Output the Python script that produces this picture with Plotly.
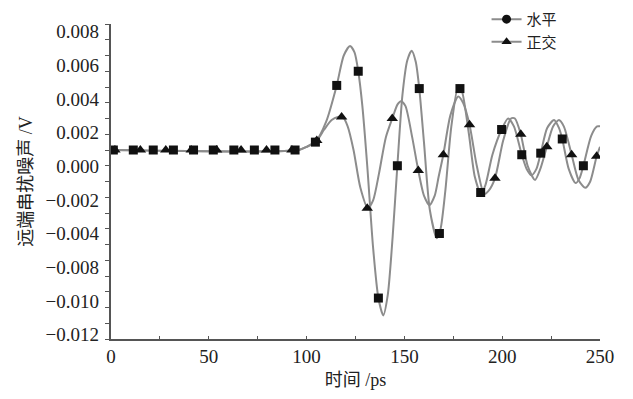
import plotly.graph_objects as go

# ---------------- data ----------------
# 水平 (horizontal) : line vertices
h_x = [0, 96, 100, 104.5, 110, 115.4, 119, 122.2, 124.5, 126.4, 128.5, 131, 134, 136.7, 139.2,
       141.5, 144, 146.4, 149, 151.5, 153.7, 155.8, 157.6, 160, 163, 166.6, 168.5, 171, 174,
       177.6, 179.5, 183, 186, 189.2, 191.5, 195, 199.7, 203, 206, 210, 212.5, 215, 217.5,
       219.7, 223, 226.5, 229, 230.7, 234, 237.5, 239.5, 241.5, 245.5, 248.5, 250]
h_y = [0, 0, 0.0002, 0.0005, 0.0018, 0.0041, 0.0060, 0.0066, 0.0062, 0.0050, 0.0028, -0.0010,
       -0.0062, -0.0094, -0.0105, -0.0092, -0.0055, -0.0010, 0.0035, 0.0057, 0.0063, 0.0056,
       0.0039, 0.0005, -0.0038, -0.0056, -0.0050, -0.0025, 0.0015, 0.0041, 0.0037, 0.0010,
       -0.0017, -0.0028, -0.0022, -0.0003, 0.0013, 0.0020, 0.0015, -0.0003, -0.0012, -0.0016,
       -0.0012, -0.0002, 0.0014, 0.0019, 0.0014, 0.0007, -0.0012, -0.0021, -0.0018, -0.0010,
       0.0009, 0.0015, 0.0015]
# 水平 : marker points
h_mx = [1.2, 11.4, 21.6, 31.9, 42.2, 52.3, 62.8, 73.3, 83.8, 94.1, 104.5, 115.4, 126.4, 136.7,
        146.4, 157.6, 167.9, 178.4, 189.0, 199.7, 210.0, 219.7, 230.7, 241.5]
h_my = [0, 0, 0, 0, 0, 0, 0, 0, 0, 0, 0.0005, 0.0041, 0.0050, -0.0094, -0.0010, 0.0039,
        -0.0053, 0.0039, -0.0027, 0.0013, -0.0003, -0.0002, 0.0007, -0.0010]

# 正交 (orthogonal) : line vertices
o_x = [0, 96, 100, 105.2, 109, 112.8, 116, 118.5, 121, 124, 127.5, 131.3, 134, 137, 140.5,
       143.8, 146.5, 148.3, 150.5, 154, 157.1, 160, 162.8, 165.5, 167.5, 169.9, 173.5, 177.5,
       180, 183.3, 187, 190.8, 193, 196.3, 200.5, 204.5, 206.5, 209.5, 213, 216.8, 219.5,
       222.8, 226, 229, 231.5, 235.5, 239, 242.5, 245, 248.3, 250]
o_y = [0, 0, 0.0002, 0.0006, 0.0013, 0.0019, 0.0021, 0.0021, 0.0015, 0.0000, -0.0024, -0.0037,
       -0.0032, -0.0015, 0.0008, 0.0020, 0.0029, 0.0031, 0.0028, 0.0008, -0.0013, -0.0029,
       -0.0035, -0.0029, -0.0017, -0.0003, 0.0022, 0.0034, 0.0030, 0.0016, -0.0010, -0.0028,
       -0.0026, -0.0018, 0.0006, 0.0020, 0.0020, 0.0010, -0.0010, -0.0019, -0.0012, 0.0002,
       0.0015, 0.0019, 0.0015, -0.0003, -0.0019, -0.0024, -0.0020, -0.0004, 0.0002]
# 正交 : marker points
o_mx = [2, 15, 28, 41, 54, 66.5, 79.5, 92.5, 105.2, 117.9, 131.0, 143.8, 157.1, 169.9, 183.3,
        196.3, 209.5, 222.8, 235.5, 248.3]
o_my = [0, 0, 0, 0, 0, 0, 0, 0, 0.0006, 0.0021, -0.0037, 0.0020, -0.0013, -0.0003, 0.0016,
        -0.0018, 0.0010, 0.0002, -0.0003, -0.0004]

series_names = ["水平", "正交"]
x_tick_vals = [0, 50, 100, 150, 200, 250]
y_tick_labels = ["0.008", "0.006", "0.004", "0.002", "0.000", "\u22120.002", "\u22120.004",
                 "\u22120.008", "\u22120.010", "\u22120.012"]
x_title = "时间 /ps"
y_title = "远端串扰噪声 /V"

# ---------------- styling ----------------
LINE_C = "#8c8c8c"
MARK_C = "#111111"
AX_C = "#555555"
FONT = "Liberation Serif, 'Noto Sans CJK SC', serif"

fig = go.Figure()
for (lx, ly) in [(h_x, h_y), (o_x, o_y)]:
    fig.add_trace(go.Scatter(x=lx, y=ly, mode="lines",
                             line=dict(color=LINE_C, width=2, shape="spline", smoothing=0.7),
                             showlegend=False, hoverinfo="skip"))
for (mx, my, sym, sz) in [(h_mx, h_my, "square", 9), (o_mx, o_my, "triangle-up", 10)]:
    fig.add_trace(go.Scatter(x=mx, y=my, mode="markers", marker=dict(symbol=sym, size=sz, color=MARK_C),
                             showlegend=False))
# legend entries
for name, sym in zip(series_names, ["circle", "triangle-up"]):
    fig.add_trace(go.Scatter(x=[None], y=[None], name=name, mode="lines+markers",
                             line=dict(color=LINE_C, width=2), marker=dict(symbol=sym, size=9, color=MARK_C)))
# carrier trace for the labelled overlay axis
fig.add_trace(go.Scatter(x=[None], y=[None], yaxis="y2", showlegend=False, hoverinfo="skip"))

# page body adds an 8px offset; plot area targeted at x 111..600, y 24..339 on screen
n_lab = len(y_tick_labels)
fig.update_layout(
    width=625, height=391,
    margin=dict(l=103, r=33, t=16, b=60, autoexpand=False),
    plot_bgcolor="white", paper_bgcolor="white",
    font=dict(family=FONT, size=19, color="#222222"),
    showlegend=True,
    legend=dict(x=0.768, y=1.067, xanchor="left", yanchor="top", bgcolor="rgba(0,0,0,0)",
                font=dict(size=15, family=FONT), tracegroupgap=0, itemwidth=30),
    xaxis=dict(range=[0, 250], tickvals=x_tick_vals, ticks="inside", ticklen=3, tickcolor=AX_C,
               minor=dict(dtick=25, ticks="inside", ticklen=3, tickcolor=AX_C),
               showline=True, linecolor=AX_C, linewidth=2, showgrid=False, zeroline=False,
               automargin=False, ticklabelstandoff=-1,
               title=dict(text=x_title, font=dict(size=18), standoff=8)),
    yaxis=dict(range=[-0.012, 0.008], dtick=0.001, ticks="outside", ticklen=4, tickcolor=AX_C,
               showticklabels=False, showline=True, linecolor=AX_C, linewidth=2,
               showgrid=False, zeroline=False, automargin=False),
    yaxis2=dict(overlaying="y", side="left", anchor="x",
                range=[(339 - 31.5) / 33.7, (24 - 31.5) / 33.7],
                tickvals=list(range(n_lab)), ticktext=y_tick_labels, ticks="", showline=False,
                showgrid=False, zeroline=False, ticklabelstandoff=11, automargin=False,
                title=dict(text=y_title, font=dict(size=18), standoff=8)),
)

fig.write_html("out.html")
